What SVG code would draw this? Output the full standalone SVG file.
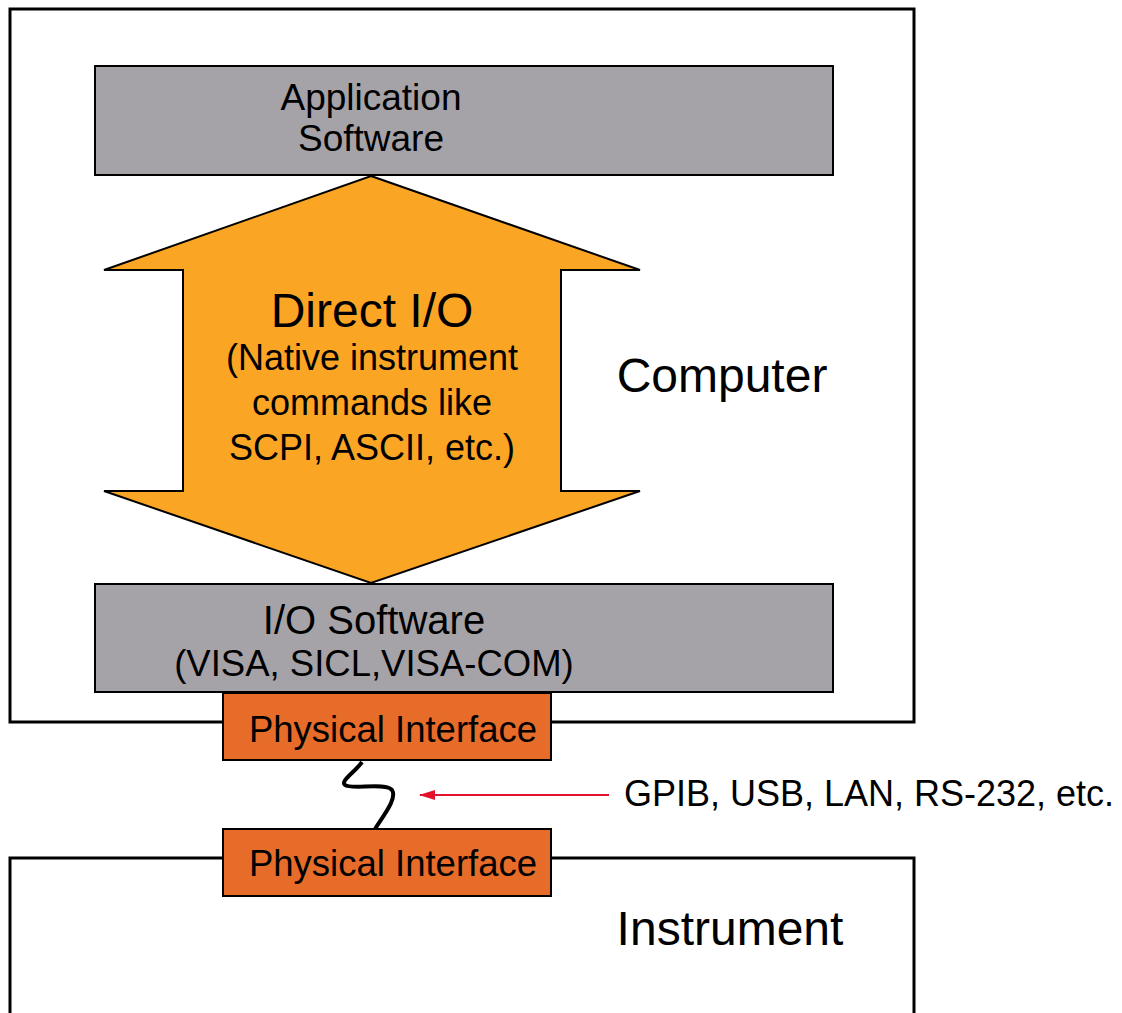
<svg xmlns="http://www.w3.org/2000/svg" width="1122" height="1013" viewBox="0 0 1122 1013">
<style>
text{font-family:"Liberation Sans",Arial,sans-serif;fill:#000;text-anchor:middle}
.frame{fill:#fff;stroke:#000;stroke-width:3}
.gray{fill:#a5a3a8;stroke:#000;stroke-width:2}
.phy{fill:#e76c29;stroke:#000;stroke-width:2}
</style>
<defs>
<marker id="ah" markerWidth="16" markerHeight="10" refX="15" refY="5" orient="auto" markerUnits="userSpaceOnUse">
<path d="M0,0 L16,5 L0,10 Z" fill="#e4102c"/>
</marker>
</defs>
<g id="computer">
<rect class="frame" x="10" y="9" width="904" height="713"/>
<text x="722" y="392" font-size="48">Computer</text>
</g>
<g id="instrument">
<rect class="frame" x="10" y="858" width="904" height="170"/>
<text x="730" y="945" font-size="48">Instrument</text>
</g>
<g id="app-software">
<rect class="gray" x="95" y="66" width="738" height="109"/>
<text x="371" y="110" font-size="37">Application</text>
<text x="371" y="151" font-size="37">Software</text>
</g>
<g id="direct-io">
<path d="M371,176 L640,270 L561,270 L561,491 L640,491 L371,583 L104,491 L183,491 L183,270 L104,270 Z" fill="#fba524" stroke="#000" stroke-width="2" stroke-linejoin="miter"/>
<text x="372" y="327" font-size="48">Direct I/O</text>
<text x="372" y="370" font-size="36">(Native instrument</text>
<text x="372" y="415" font-size="36">commands like</text>
<text x="372" y="460" font-size="36">SCPI, ASCII, etc.)</text>
</g>
<g id="io-software">
<rect class="gray" x="95" y="584" width="738" height="108"/>
<text x="374" y="634" font-size="40">I/O Software</text>
<text x="374" y="676" font-size="36.5">(VISA, SICL,VISA-COM)</text>
</g>
<g id="phy-top">
<rect class="phy" x="223" y="693" width="328" height="67"/>
<text x="393" y="742" font-size="36.5">Physical Interface</text>
</g>
<g id="phy-bottom">
<rect class="phy" x="223" y="829" width="328" height="67"/>
<text x="393" y="876" font-size="36.5">Physical Interface</text>
</g>
<g id="connectors">
<path d="M362,762 C355,772 340,781 345,785 C351,790 386,782 392,790 C397,798 386,812 375,829" fill="none" stroke="#000" stroke-width="4"/>
<line x1="609" y1="795" x2="420" y2="795" stroke="#e4102c" stroke-width="2" marker-end="url(#ah)"/>
</g>
<g id="bus-label">
<text x="869" y="806" font-size="36">GPIB, USB, LAN, RS-232, etc.</text>
</g>
</svg>
